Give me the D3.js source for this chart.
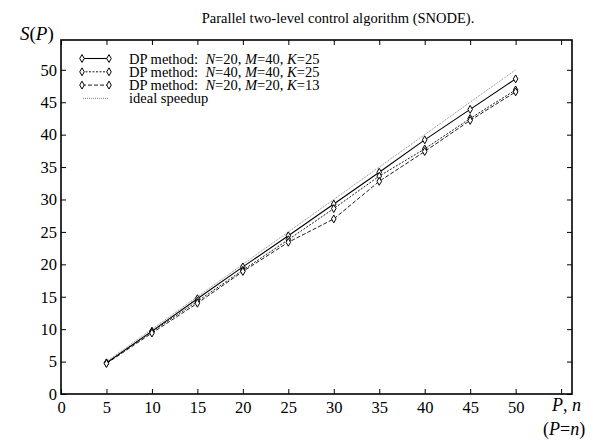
<html>
<head>
<script src="https://d3js.org/d3.v7.min.js"></script>
<style>
  body { margin: 0; background: #fff; }
  text { font-family: "Liberation Serif", "Times New Roman", serif; fill: #000; }
</style>
</head>
<body>
<svg id="svg" width="597" height="443"></svg>
<script>
// **** Data ****
const procs = [5, 10, 15, 20, 25, 30, 35, 40, 45, 50]
const dp1 = [4.8, 9.7, 14.7, 19.6, 24.4, 29.3, 34.2, 39.2, 43.9, 48.6]
const dp2 = [4.8, 9.6, 14.3, 19.1, 23.8, 28.6, 33.6, 37.8, 42.5, 46.9]
const dp3 = [4.7, 9.4, 14.0, 18.9, 23.4, 27.0, 32.8, 37.4, 42.2, 46.6]
const ideal = [5, 10, 15, 20, 25, 30, 35, 40, 45, 50]
const xTicks = [0, 5, 10, 15, 20, 25, 30, 35, 40, 45, 50, 55]
const xTickLabels = ['0', '5', '10', '15', '20', '25', '30', '35', '40', '45', '50', '']
const yTicks = [0, 5, 10, 15, 20, 25, 30, 35, 40, 45, 50]

const serif = '"Liberation Serif", "Times New Roman", serif'
const svg = d3.select('#svg')
const pLeft = 61, pRight = 572, pTop = 40, pBottom = 394

const x = d3.scaleLinear().domain([0, 56.2]).range([pLeft, pRight])
const y = d3.scaleLinear().domain([0, 54.6]).range([pBottom, pTop])

// title
svg.append('text').attr('x', 338).attr('y', 23).attr('text-anchor', 'middle')
  .attr('font-family', serif).style('font-size', '14.5px').text('Parallel two-level control algorithm (SNODE).')

// axes, ticks inward on all four sides
const gx = svg.append('g').attr('transform', `translate(0,${pBottom})`)
  .call(d3.axisBottom(x).tickValues(xTicks).tickSizeInner(-5).tickSizeOuter(0).tickFormat((d, i) => xTickLabels[i]))
gx.selectAll('.tick text').attr('y', 3).attr('dy', '0.95em')
svg.append('g').attr('transform', `translate(0,${pTop})`)
  .call(d3.axisTop(x).tickValues(xTicks).tickSizeInner(-5).tickSizeOuter(0).tickFormat(''))
const gy = svg.append('g').attr('transform', `translate(${pLeft},0)`)
  .call(d3.axisLeft(y).tickValues(yTicks).tickSizeInner(-5).tickSizeOuter(0))
gy.selectAll('.tick text').attr('x', -4)
svg.append('g').attr('transform', `translate(${pRight},0)`)
  .call(d3.axisRight(y).tickValues(yTicks).tickSizeInner(-5).tickSizeOuter(0).tickFormat(''))

svg.selectAll('g').attr('font-family', serif).attr('font-size', 16.5)
svg.selectAll('.domain').remove()
svg.selectAll('.tick line').attr('stroke', '#000').attr('stroke-width', 1)

svg.append('rect').attr('x', pLeft).attr('y', pTop).attr('width', pRight - pLeft).attr('height', pBottom - pTop)
  .attr('fill', 'none').attr('stroke', '#000').attr('stroke-width', 1.6)

// lines
const line = d3.line().x((d, i) => x(procs[i])).y(d => y(d))
const series = [
  { values: dp1, dash: null, width: 1.1 },
  { values: dp2, dash: '2,1.5', width: 0.9 },
  { values: dp3, dash: '4,2', width: 0.9 }
]
svg.append('path').datum(ideal).attr('d', line).attr('fill', 'none')
  .attr('stroke', '#666').attr('stroke-width', 0.8).attr('stroke-dasharray', '1,1')

const sym = d3.symbol().type(d3.symbolDiamond).size(18)
series.forEach(s => {
  svg.append('path').datum(s.values).attr('d', line).attr('fill', 'none')
    .attr('stroke', '#000').attr('stroke-width', s.width).attr('stroke-dasharray', s.dash)
  svg.append('g').selectAll('path').data(s.values).enter().append('path')
    .attr('d', sym).attr('transform', (d, i) => `translate(${x(procs[i])},${y(d)})`)
    .attr('fill', '#fff').attr('stroke', '#000').attr('stroke-width', 1)
})

// legend
const legend = [
  { n: '20', m: '40', k: '25', dash: null, width: 1.1 },
  { n: '40', m: '40', k: '25', dash: '2,1.5', width: 0.9 },
  { n: '20', m: '20', k: '13', dash: '4,2', width: 0.9 }
]
legend.forEach((l, i) => {
  const ly = 58.5 + i * 13.3
  svg.append('line').attr('x1', 82).attr('x2', 109).attr('y1', ly).attr('y2', ly)
    .attr('stroke', '#000').attr('stroke-width', l.width).attr('stroke-dasharray', l.dash)
  ;[82, 109].forEach(px => svg.append('path').attr('d', sym).attr('transform', `translate(${px},${ly})`)
    .attr('fill', '#fff').attr('stroke', '#000'))
  const t = svg.append('text').attr('x', 129).attr('y', ly + 5).attr('font-family', serif).style('font-size', '14.5px')
  t.append('tspan').text('DP method:\u00a0\u00a0')
  t.append('tspan').style('font-style', 'italic').text('N')
  t.append('tspan').text('=' + l.n + ', ')
  t.append('tspan').style('font-style', 'italic').text('M')
  t.append('tspan').text('=' + l.m + ', ')
  t.append('tspan').style('font-style', 'italic').text('K')
  t.append('tspan').text('=' + l.k)
})
svg.append('line').attr('x1', 83).attr('x2', 108).attr('y1', 98.4).attr('y2', 98.4)
  .attr('stroke', '#666').attr('stroke-width', 0.8).attr('stroke-dasharray', '1,1')
svg.append('text').attr('x', 129).attr('y', 103.4).attr('font-family', serif).style('font-size', '14.5px').text('ideal speedup')

// axis labels
const sl = svg.append('text').attr('x', 20).attr('y', 40).attr('font-family', serif).style('font-size', '19px')
sl.append('tspan').style('font-style', 'italic').text('S')
sl.append('tspan').text('(')
sl.append('tspan').style('font-style', 'italic').text('P')
sl.append('tspan').text(')')

const xl = svg.append('text').attr('x', 552).attr('y', 411).attr('font-family', serif).style('font-size', '18px')
xl.append('tspan').style('font-style', 'italic').text('P')
xl.append('tspan').text(', ')
xl.append('tspan').style('font-style', 'italic').text('n')
const xl2 = svg.append('text').attr('x', 543).attr('y', 435).attr('font-family', serif).style('font-size', '18px')
xl2.append('tspan').text('(')
xl2.append('tspan').style('font-style', 'italic').text('P')
xl2.append('tspan').text('=')
xl2.append('tspan').style('font-style', 'italic').text('n')
xl2.append('tspan').text(')')
</script>
</body>
</html>
